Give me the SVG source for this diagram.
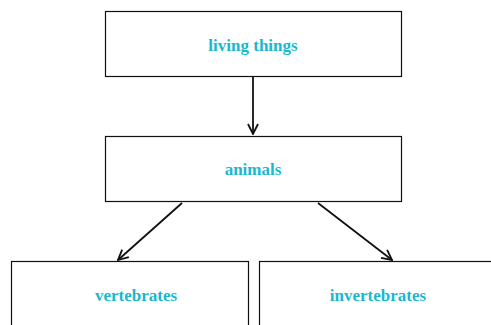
<svg xmlns="http://www.w3.org/2000/svg" width="491" height="325" viewBox="0 0 491 325">
<style>
.box{fill:#fff;stroke:#111;stroke-width:1.2}
.lbl{font-family:"Liberation Serif","DejaVu Serif",serif;font-weight:bold;font-size:17px;fill:#1ab8d0;text-anchor:middle}
.edge{stroke:#111;stroke-width:1.8;fill:none;marker-end:url(#arr)}
</style>
<defs>
<marker id="arr" viewBox="0 0 12 12" refX="11" refY="6" markerWidth="12" markerHeight="12" markerUnits="userSpaceOnUse" orient="auto">
<path d="M1,1 L11,6 L1,11" fill="none" stroke="#111" stroke-width="1.8"/>
</marker>
</defs>
<rect width="491" height="325" fill="#fff"/>
<g id="connectors">
<line class="edge" x1="253" y1="77" x2="253" y2="134"/>
<line class="edge" x1="182" y1="203" x2="118" y2="260"/>
<line class="edge" x1="318" y1="203" x2="392" y2="260"/>
</g>
<g id="living-things">
<rect class="box" x="105.5" y="11.5" width="296" height="65"/>
<text class="lbl" x="253" y="51">living things</text>
</g>
<g id="animals">
<rect class="box" x="105.5" y="136.5" width="296" height="65"/>
<text class="lbl" x="253" y="175">animals</text>
</g>
<g id="vertebrates">
<rect class="box" x="11.5" y="261.5" width="237" height="80"/>
<text class="lbl" x="136" y="301">vertebrates</text>
</g>
<g id="invertebrates">
<rect class="box" x="259.5" y="261.5" width="250" height="80"/>
<text class="lbl" x="378" y="301">invertebrates</text>
</g>
</svg>
